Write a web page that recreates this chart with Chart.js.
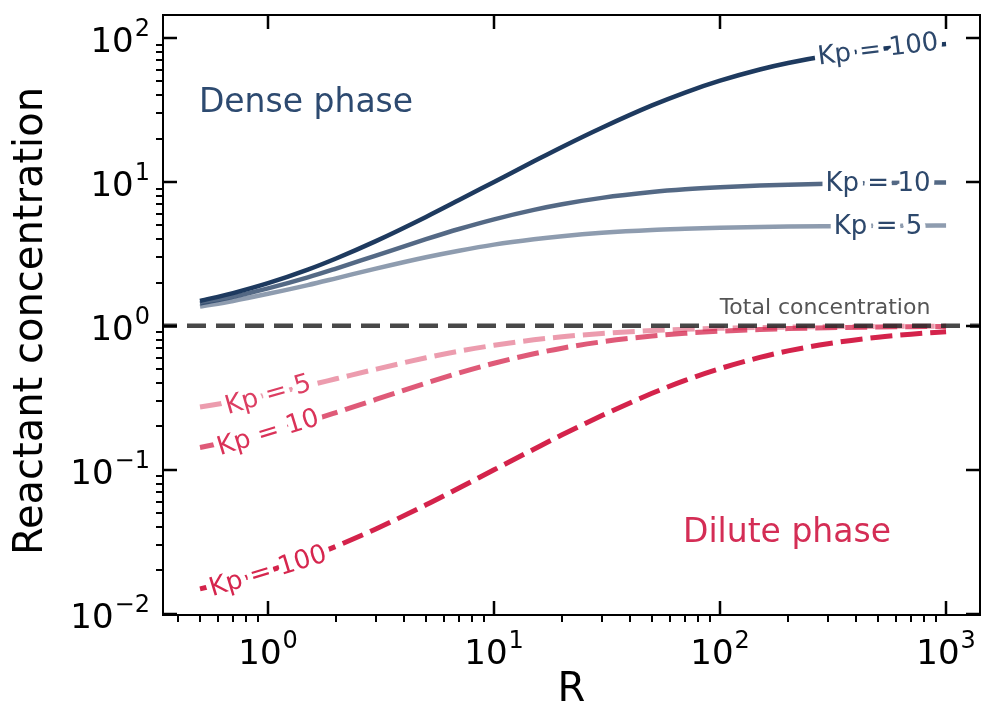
<!DOCTYPE html>
<html>
<head>
<meta charset="utf-8">
<script src="https://cdn.jsdelivr.net/npm/chart.js@4"></script>
<style>
  html, body { margin: 0; padding: 0; background: #fff; }
  canvas { display: block; }
</style>
</head>
<body>
<canvas id="chart" width="981" height="715"></canvas>
<script>
// Ratio R and concentrations per partition coefficient Kp
const rValues = [0.5, 0.7, 1, 1.5, 2, 3, 5, 7, 10, 15, 20, 30, 50, 70, 100, 150, 200, 300, 500, 700, 1000];

const denseKp5 = [1.36, 1.49, 1.67, 1.92, 2.14, 2.5, 3.0, 3.33, 3.67, 4.0, 4.2, 4.43, 4.64, 4.73, 4.81, 4.87, 4.9, 4.93, 4.96, 4.97, 4.98];
const denseKp10 = [1.43, 1.59, 1.82, 2.17, 2.5, 3.08, 4.0, 4.71, 5.5, 6.4, 7.0, 7.75, 8.5, 8.88, 9.18, 9.44, 9.57, 9.71, 9.82, 9.87, 9.91];
const denseKp100 = [1.49, 1.69, 1.98, 2.46, 2.94, 3.88, 5.71, 7.48, 10.0, 13.9, 17.5, 23.8, 34.0, 41.8, 50.5, 60.4, 67.0, 75.2, 83.5, 87.6, 91.0];

const diluteKp5 = [0.273, 0.298, 0.333, 0.385, 0.429, 0.5, 0.6, 0.667, 0.733, 0.8, 0.84, 0.886, 0.927, 0.947, 0.962, 0.974, 0.98, 0.987, 0.992, 0.994, 0.996];
const diluteKp10 = [0.143, 0.159, 0.182, 0.217, 0.25, 0.308, 0.4, 0.471, 0.55, 0.64, 0.7, 0.775, 0.85, 0.888, 0.918, 0.944, 0.957, 0.971, 0.982, 0.987, 0.991];
const diluteKp100 = [0.0149, 0.0169, 0.0198, 0.0246, 0.0294, 0.0388, 0.0571, 0.0748, 0.1, 0.139, 0.175, 0.238, 0.34, 0.418, 0.505, 0.604, 0.67, 0.752, 0.835, 0.876, 0.91];

const totalConcentration = 1;

// axis limits and ticks
const xLimits = [0.343, 1413];
const yLimits = [0.0098, 144.5];
const xTickValues = [1, 10, 100, 1000];
const xTickExponents = ['0', '1', '2', '3'];
const yTickValues = [0.01, 0.1, 1, 10, 100];
const yTickExponents = ['\u22122', '\u22121', '0', '1', '2'];

const FONT = '"DejaVu Sans", "Liberation Sans", sans-serif';
const NAVY = 'rgb(30, 58, 95)';
const CRIMSON = 'rgb(212, 35, 75)';

function series(vals) {
  return rValues.map((r, i) => ({ x: r, y: vals[i] }));
}

function solid(label, vals, color) {
  return {
    label, data: series(vals), borderColor: color, borderWidth: 4.5,
    pointRadius: 0, cubicInterpolationMode: 'monotone', order: 2
  };
}

function dashed(label, vals, color) {
  return {
    label, data: series(vals), borderColor: color, borderWidth: 5,
    borderDash: [22, 8], pointRadius: 0, cubicInterpolationMode: 'monotone', order: 2
  };
}

// inline line labels: dataset index, point index, text, colour, tilt in degrees
const lineLabels = [
  { ds: 0, idx: 18, text: 'Kp = 5', color: 'rgb(45, 72, 108)', tilt: 0 },
  { ds: 1, idx: 18, text: 'Kp = 10', color: 'rgb(45, 72, 108)', tilt: 0 },
  { ds: 2, idx: 18, text: 'Kp = 100', color: 'rgb(45, 72, 108)', tilt: -7 },
  { ds: 3, idx: 2, text: 'Kp = 5', color: 'rgb(220, 62, 98)', tilt: -16 },
  { ds: 4, idx: 2, text: 'Kp = 10', color: 'rgb(218, 50, 88)', tilt: -17 },
  { ds: 5, idx: 2, text: 'Kp = 100', color: 'rgb(214, 38, 78)', tilt: -17 }
];

function drawPow(ctx, exp, x, y, align) {
  ctx.font = '34px ' + FONT;
  const wb = ctx.measureText('10').width;
  ctx.font = '24px ' + FONT;
  const ws = ctx.measureText(exp).width;
  const total = wb + ws + 1;
  let x0 = align === 'right' ? x - total : x - total / 2;
  ctx.textAlign = 'left';
  ctx.textBaseline = 'alphabetic';
  ctx.font = '34px ' + FONT;
  ctx.fillText('10', x0, y + 12);
  ctx.font = '24px ' + FONT;
  ctx.fillText(exp, x0 + wb + 1, y - 4);
}

const decorPlugin = {
  id: 'decor',
  afterDatasetsDraw(chart) {
    const ctx = chart.ctx;
    // labels sitting on the lines, with a white halo
    lineLabels.forEach(l => {
      const p = chart.getDatasetMeta(l.ds).data[l.idx];
      ctx.save();
      ctx.translate(p.x, p.y);
      ctx.rotate(l.tilt * Math.PI / 180);
      ctx.font = '26px ' + FONT;
      ctx.textAlign = 'center';
      ctx.textBaseline = 'middle';
      ctx.lineJoin = 'round';
      ctx.strokeStyle = '#fff';
      ctx.lineWidth = 11;
      ctx.strokeText(l.text, 0, 1);
      ctx.fillStyle = l.color;
      ctx.fillText(l.text, 0, 1);
      ctx.restore();
    });
  },
  afterDraw(chart) {
    const ctx = chart.ctx;
    const { left, right, top, bottom } = chart.chartArea;
    const xs = chart.scales.x, ys = chart.scales.y;
    ctx.save();

    // text annotations
    ctx.textAlign = 'center';
    ctx.textBaseline = 'middle';
    ctx.font = '33px ' + FONT;
    ctx.fillStyle = 'rgb(45, 74, 112)';
    ctx.fillText('Dense phase', 306, 103);
    ctx.fillStyle = 'rgb(212, 45, 85)';
    ctx.fillText('Dilute phase', 787, 533);
    ctx.font = '22px ' + FONT;
    ctx.fillStyle = '#555';
    ctx.fillText('Total concentration', 825, 308);

    // spines
    ctx.strokeStyle = '#000';
    ctx.lineWidth = 2;
    ctx.strokeRect(left, top, right - left, bottom - top);

    // major ticks point inward on all sides
    ctx.lineWidth = 2.5;
    ctx.beginPath();
    xTickValues.forEach(v => {
      const x = Math.round(xs.getPixelForValue(v));
      ctx.moveTo(x, bottom); ctx.lineTo(x, bottom - 14);
      ctx.moveTo(x, top); ctx.lineTo(x, top + 14);
    });
    yTickValues.forEach(v => {
      const y = Math.round(ys.getPixelForValue(v));
      ctx.moveTo(left, y); ctx.lineTo(left + 14, y);
      ctx.moveTo(right, y); ctx.lineTo(right - 14, y);
    });
    ctx.stroke();

    // minor ticks point outward on bottom and left
    ctx.lineWidth = 2;
    ctx.beginPath();
    for (let d = -1; d <= 3; d++) {
      for (let m = 2; m <= 9; m++) {
        const v = m * Math.pow(10, d);
        if (v > xLimits[0] && v < xLimits[1]) {
          const x = Math.round(xs.getPixelForValue(v));
          ctx.moveTo(x, bottom); ctx.lineTo(x, bottom + 7);
        }
      }
    }
    for (let d = -3; d <= 2; d++) {
      for (let m = 2; m <= 9; m++) {
        const v = m * Math.pow(10, d);
        if (v > yLimits[0] && v < yLimits[1]) {
          const y = Math.round(ys.getPixelForValue(v));
          ctx.moveTo(left, y); ctx.lineTo(left - 7, y);
        }
      }
    }
    ctx.stroke();

    // tick labels
    ctx.fillStyle = '#000';
    xTickValues.forEach((v, i) => {
      drawPow(ctx, xTickExponents[i], xs.getPixelForValue(v), 652, 'center');
    });
    yTickValues.forEach((v, i) => {
      drawPow(ctx, yTickExponents[i], 150, ys.getPixelForValue(v) + 2, 'right');
    });

    // axis titles
    ctx.font = '40px ' + FONT;
    ctx.textAlign = 'center';
    ctx.textBaseline = 'middle';
    ctx.fillText('R', (left + right) / 2, 691);
    ctx.save();
    ctx.translate(32, (top + bottom) / 2 + 6);
    ctx.rotate(-Math.PI / 2);
    ctx.fillText('Reactant concentration', 0, 0);
    ctx.restore();

    ctx.restore();
  }
};

new Chart(document.getElementById('chart'), {
  type: 'line',
  data: {
    datasets: [
      solid('Dense Kp = 5', denseKp5, 'rgba(30, 58, 95, 0.5)'),
      solid('Dense Kp = 10', denseKp10, 'rgba(30, 58, 95, 0.76)'),
      solid('Dense Kp = 100', denseKp100, NAVY),
      dashed('Dilute Kp = 5', diluteKp5, 'rgba(212, 35, 75, 0.45)'),
      dashed('Dilute Kp = 10', diluteKp10, 'rgba(212, 35, 75, 0.75)'),
      dashed('Dilute Kp = 100', diluteKp100, CRIMSON),
      {
        label: 'Total concentration',
        data: [{ x: xLimits[0], y: totalConcentration }, { x: xLimits[1], y: totalConcentration }],
        borderColor: 'rgba(40, 40, 40, 0.85)', borderWidth: 4.5,
        borderDash: [19, 10], borderDashOffset: 5, pointRadius: 0, order: 0
      }
    ]
  },
  options: {
    responsive: false,
    animation: false,
    layout: { padding: { left: 163, top: 15, right: 1, bottom: 100 } },
    plugins: { legend: { display: false }, tooltip: { enabled: false } },
    scales: {
      x: { type: 'logarithmic', min: xLimits[0], max: xLimits[1], bounds: 'data', display: false },
      y: { type: 'logarithmic', min: yLimits[0], max: yLimits[1], bounds: 'data', display: false }
    }
  },
  plugins: [decorPlugin]
});
</script>
</body>
</html>
